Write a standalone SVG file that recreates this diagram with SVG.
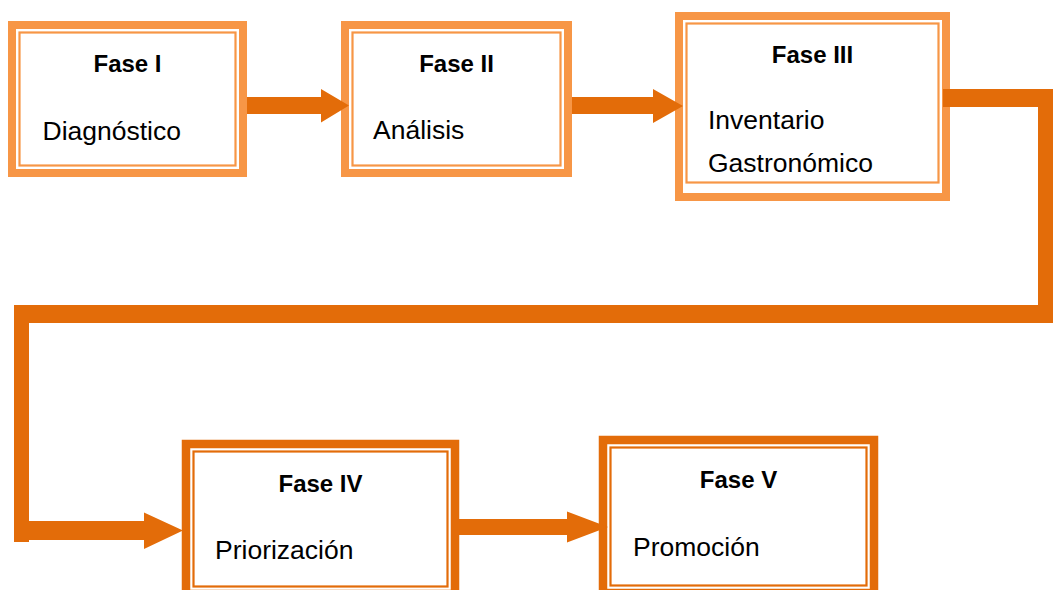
<svg xmlns="http://www.w3.org/2000/svg" width="1053" height="590" viewBox="0 0 1053 590">
  <style>
    .band-l { fill: none; stroke: #F79646; stroke-width: 8; }
    .line-l { fill: none; stroke: #F79646; stroke-width: 2.2; }
    .band-d { fill: none; stroke: #E36C09; stroke-width: 8.5; }
    .line-d { fill: none; stroke: #E36C09; stroke-width: 2.2; }
    .title { font-family: "Liberation Sans", Arial, sans-serif; font-weight: bold; font-size: 24px; fill: #000; text-anchor: middle; }
    .body { font-family: "Liberation Sans", Arial, sans-serif; font-size: 26.5px; fill: #000; }
    .conn { fill: #E36C09; stroke: none; }
  </style>
  <rect width="1053" height="590" fill="#fff"/>

  <g id="fase1">
    <rect class="band-l" x="12" y="25" width="231" height="148"/>
    <rect class="line-l" x="19.5" y="32.5" width="216" height="133"/>
    <text class="title" x="127.5" y="72">Fase I</text>
    <text class="body" x="42.5" y="140">Diagnóstico</text>
  </g>

  <g id="fase2">
    <rect class="band-l" x="345" y="25" width="223" height="148"/>
    <rect class="line-l" x="352.5" y="32.5" width="208" height="133"/>
    <text class="title" x="456.5" y="72">Fase II</text>
    <text class="body" x="373" y="139">Análisis</text>
  </g>

  <g id="fase3">
    <rect class="band-l" x="679" y="16" width="267" height="181"/>
    <rect class="line-l" x="686.5" y="23.5" width="252" height="159"/>
    <text class="title" x="812.5" y="63">Fase III</text>
    <text class="body" x="708" y="129">Inventario</text>
    <text class="body" x="708" y="171.5">Gastronómico</text>
  </g>

  <g id="fase4">
    <rect class="band-d" x="186" y="444" width="269" height="150"/>
    <rect class="line-d" x="193.5" y="451.5" width="254" height="135"/>
    <text class="title" x="320.5" y="492">Fase IV</text>
    <text class="body" x="215" y="559">Priorización</text>
  </g>

  <g id="fase5">
    <rect class="band-d" x="603" y="440" width="271" height="153"/>
    <rect class="line-d" x="610.5" y="447.5" width="256" height="138"/>
    <text class="title" x="738.5" y="488">Fase V</text>
    <text class="body" x="633" y="555.5">Promoción</text>
  </g>

  <g id="connectors">
    <polygon class="conn" points="247,97 321,97 321,89 349,105.5 321,122.5 321,114 247,114"/>
    <polygon class="conn" points="572,97 653,97 653,89 683,106 653,123 653,114 572,114"/>
    <path class="conn" d="M943,89 H1056 V323 H29 V521 H144 V512.5 L183,530.5 L144,549 V540 H29 V542 H14 V305 H1038 V107 H943 Z"/>
    <polygon class="conn" points="459,519 567,519 567,511.5 608,527 567,542.5 567,535 459,535"/>
  </g>
</svg>
